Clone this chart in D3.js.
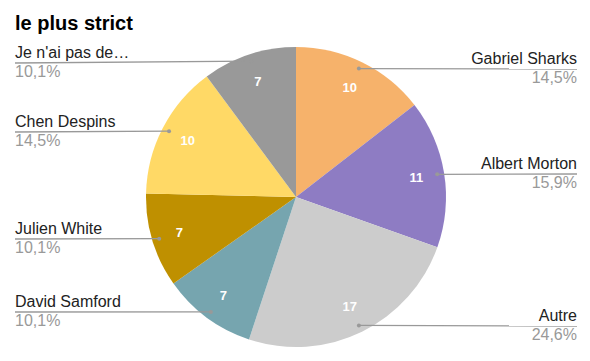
<!DOCTYPE html>
<html><head><meta charset="utf-8">
<script src="https://cdn.jsdelivr.net/npm/d3@7"></script>
<style>body{margin:0;background:#fff;font-family:"Liberation Sans",Arial,sans-serif;}</style>
</head><body>
<svg id="c" width="590" height="361"></svg>
<script>
const categories = ["Gabriel Sharks","Albert Morton","Autre","David Samford","Julien White","Chen Despins","Je n'ai pas de…"];
const values = [10,11,17,7,7,10,7];
const percentLabels = ["14,5%","15,9%","24,6%","10,1%","10,1%","14,5%","10,1%"];
const colors = ["#f6b26b","#8e7cc3","#cccccc","#76a5af","#bf9000","#ffd966","#999999"];
const labelY = [69,174,326,312,239,132,63];

const svg = d3.select("#c");
svg.append("text").attr("x",15).attr("y",30).attr("font-size",20).attr("font-weight","bold").attr("fill","#000").text("le plus strict");

const cx=296, cy=197, R=150;
const g = svg.append("g").attr("transform",`translate(${cx},${cy})`);
const pie = d3.pie().sort(null).value(d=>d)(values);
const arc = d3.arc().innerRadius(0).outerRadius(R);
g.selectAll("path").data(pie).join("path").attr("d",arc).attr("fill",(d,i)=>colors[i]);

const lab = d3.arc().innerRadius(122).outerRadius(122);
g.selectAll("text.v").data(pie).join("text").attr("class","v")
 .attr("transform",d=>`translate(${lab.centroid(d)})`)
 .attr("text-anchor","middle").attr("dy","0.35em")
 .attr("font-size",13).attr("font-weight","bold").attr("fill","#fff").text(d=>d.data);

const dotArc = d3.arc().innerRadius(143).outerRadius(143);
pie.forEach((d,i)=>{
  const [dx,dy] = dotArc.centroid(d);
  const px=cx+dx, py=cy+dy;
  const mid=(d.startAngle+d.endAngle)/2;
  const right = mid < Math.PI;
  const ex = right ? 577 : 15;
  const ly = labelY[i];
  svg.append("line").attr("x1",px).attr("y1",py).attr("x2",ex).attr("y2",ly)
    .attr("stroke","#999").attr("stroke-width",1.3);
  svg.append("circle").attr("cx",px).attr("cy",py).attr("r",2).attr("fill","#999");
  const anchor = right ? "end" : "start";
  svg.append("text").attr("x",ex).attr("y",ly-5).attr("text-anchor",anchor)
    .attr("font-size",16).attr("fill","#222").text(categories[i]);
  svg.append("text").attr("x",ex).attr("y",ly+14).attr("text-anchor",anchor)
    .attr("font-size",16).attr("fill","#999").text(percentLabels[i]);
});
</script>
</body></html>
